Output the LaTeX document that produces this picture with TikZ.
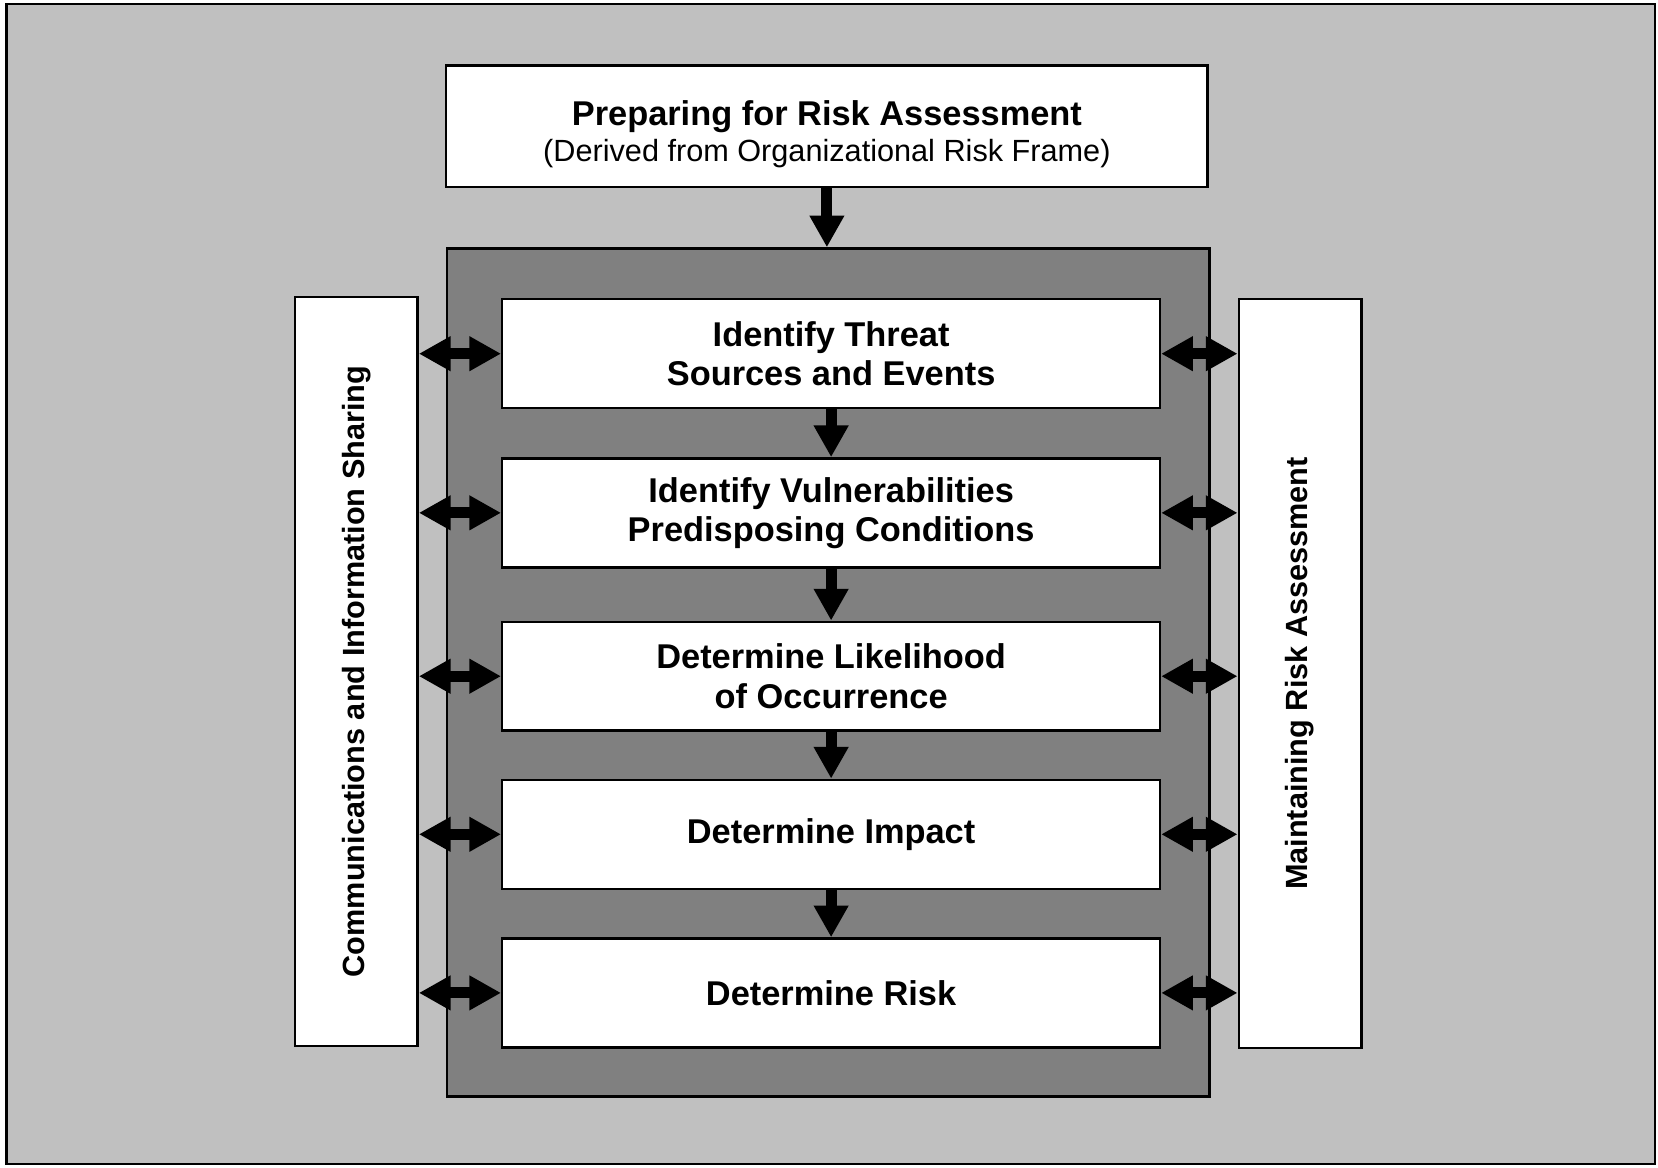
\documentclass[tikz,border=0pt]{standalone}
\usepackage{fontspec}
\setmainfont{Liberation Sans}
\usetikzlibrary{arrows.meta}
\definecolor{lightbg}{HTML}{C0C0C0}
\definecolor{darkbg}{HTML}{808080}

\begin{document}
\begin{tikzpicture}[
        stepbox/.style={draw, line width=1.3pt, fill=white, minimum width=12.44cm, minimum height=2.06cm,
            align=center, inner sep=0pt, font=\fontsize{18.5}{21}\selectfont\bfseries},
        sidebox/.style={draw, line width=1.3pt, fill=white, minimum width=2.32cm, minimum height=14.16cm,
            inner sep=0pt, font=\fontsize{16.5}{20}\selectfont\bfseries},
        flow/.style={line width=0.21cm, -{Triangle[width=0.62cm,length=0.6cm]}},
        link/.style={line width=0.21cm, {Triangle[width=0.62cm,length=0.6cm]}-{Triangle[width=0.62cm,length=0.6cm]}}
    ]
        \useasboundingbox (0,0) rectangle (31.36,-22.08);
        \draw[line width=1.3pt, fill=lightbg] (0.12,-0.08) rectangle (31.3,-22.02);

        \node[draw, line width=1.3pt, fill=white, minimum width=14.4cm, minimum height=2.3cm, align=center]
            (prep) at (15.64,-2.39) {\rule{0pt}{22pt}{\fontsize{18.5}{21}\selectfont\bfseries Preparing for Risk Assessment}\\[2.5pt]
            {\fontsize{16.5}{20}\selectfont (Derived from Organizational Risk Frame)}};
        \node[draw, line width=1.3pt, fill=darkbg, minimum width=14.42cm, minimum height=16.04cm] (core) at (15.67,-12.72) {};

        \draw[flow] (prep.south) -- (prep.south |- core.north);

        \node[sidebox] (comm) at (6.74,-12.70) {\rotatebox{90}{Communications and Information Sharing}};
        \node[sidebox] (maint) at (24.59,-12.74) {\rotatebox{90}{Maintaining Risk Assessment}};

        \node[stepbox] (threat) at (15.72,-6.69) {Identify Threat\\Sources and Events};
        \node[stepbox] (vuln) at (15.72,-9.70) {Identify Vulnerabilities\\Predisposing Conditions};
        \node[stepbox] (likely) at (15.72,-12.79) {Determine Likelihood\\of Occurrence};
        \node[stepbox] (impact) at (15.72,-15.78) {Determine Impact};
        \node[stepbox] (risk) at (15.72,-18.78) {Determine Risk};

        \draw[flow] (threat.south) -- (vuln.north);
        \draw[flow] (vuln.south) -- (likely.north);
        \draw[flow] (likely.south) -- (impact.north);
        \draw[flow] (impact.south) -- (risk.north);

        \draw[link] (comm.east |- threat.west) -- (threat.west);
        \draw[link] (comm.east |- vuln.west) -- (vuln.west);
        \draw[link] (comm.east |- likely.west) -- (likely.west);
        \draw[link] (comm.east |- impact.west) -- (impact.west);
        \draw[link] (comm.east |- risk.west) -- (risk.west);

        \draw[link] (threat.east) -- (maint.west |- threat.east);
        \draw[link] (vuln.east) -- (maint.west |- vuln.east);
        \draw[link] (likely.east) -- (maint.west |- likely.east);
        \draw[link] (impact.east) -- (maint.west |- impact.east);
        \draw[link] (risk.east) -- (maint.west |- risk.east);

    \end{tikzpicture}
\end{document}
